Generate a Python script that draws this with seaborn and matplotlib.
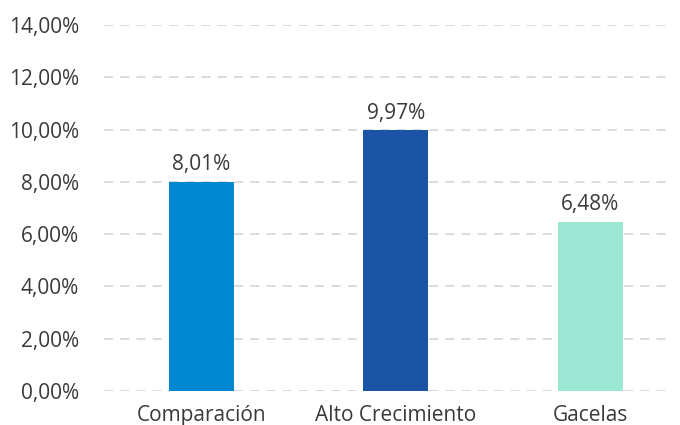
import pandas as pd
import matplotlib.pyplot as plt
import seaborn as sns
from matplotlib.ticker import FuncFormatter

# Data
categories = ["Comparación", "Alto Crecimiento", "Gacelas"]
values = [0.0801, 0.0997, 0.0648]
colors = ["#0089D1", "#1B53A5", "#9CE6D4"]

df = pd.DataFrame({"categoria": categories, "valor": values})

sns.set_style("white")
plt.rcParams["font.family"] = ["Open Sans", "DejaVu Sans"]
text_color = "#3A3A3A"

fig = plt.figure(figsize=(6.8, 4.25), dpi=100)
ax = fig.add_axes([0.153, 0.08, 0.835, 0.861])

sns.barplot(data=df, x="categoria", y="valor", hue="categoria",
            palette=colors, width=0.334, saturation=1, linewidth=0,
            legend=False, ax=ax, zorder=3)

# Value labels
for i, v in enumerate(values):
    ax.text(i, v + 0.0025, f"{v * 100:.2f}%".replace(".", ","),
            ha="center", va="bottom", fontsize=15, color=text_color)

ax.set_ylim(0, 0.14)
ax.set_xlim(-0.5, 2.42)
ax.set_yticks([i * 0.02 for i in range(8)])
ax.yaxis.set_major_formatter(FuncFormatter(lambda y, _: f"{y * 100:.2f}%".replace(".", ",")))

ax.grid(axis="y", color="#D9D9D9", linestyle=(0, (5, 4)), linewidth=1.3, zorder=0)
ax.grid(axis="x", visible=False)
for s in ax.spines.values():
    s.set_visible(False)

ax.tick_params(axis="both", length=0, labelsize=15, colors=text_color)
ax.tick_params(axis="y", pad=18)
ax.tick_params(axis="x", pad=10)
ax.set_xlabel("")
ax.set_ylabel("")

plt.savefig("out.png", dpi=100)
